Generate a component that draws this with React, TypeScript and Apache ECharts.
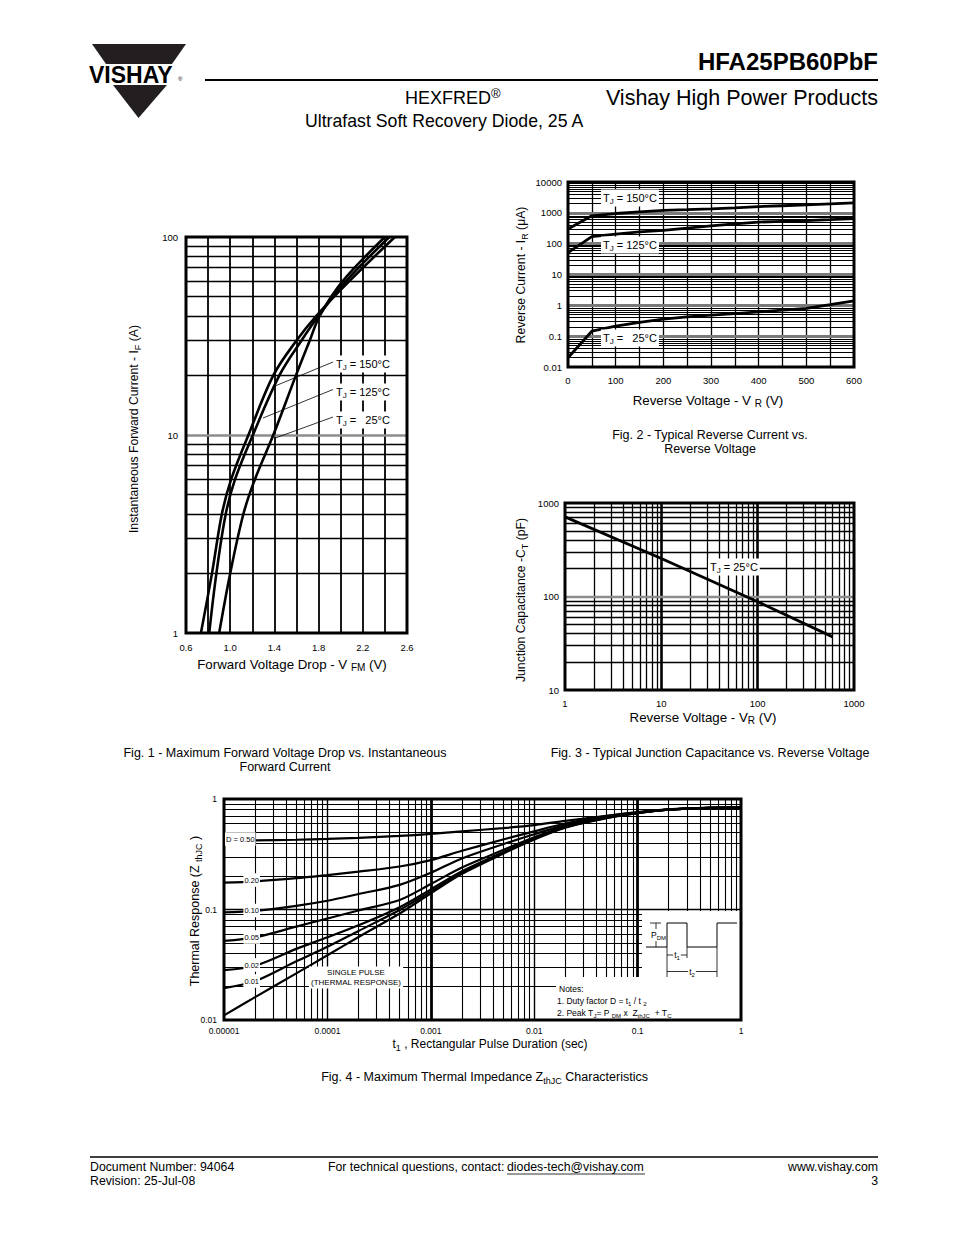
import React, { useEffect, useRef } from 'react';
import * as echarts from 'echarts';

const FONT = '"Liberation Sans", Arial, Helvetica, sans-serif';

// ---------- Fig. 1 : forward voltage drop ----------
const fig1Current = [1, 2, 4, 6, 10, 20, 30, 40, 60, 100];
const fig1V150 = [0.735, 0.835, 0.925, 1.01, 1.165, 1.39, 1.6, 1.78, 2.08, 2.49];
const fig1V125 = [0.81, 0.875, 0.96, 1.045, 1.205, 1.445, 1.645, 1.8, 2.05, 2.44];
const fig1V25 = [0.9, 1.0, 1.12, 1.225, 1.39, 1.595, 1.72, 1.81, 2.02, 2.4];
const fig1XTicks = ['0.6', '1.0', '1.4', '1.8', '2.2', '2.6'];
const fig1YTicks = ['1', '10', '100'];

// ---------- Fig. 2 : reverse current ----------
const fig2Voltage = [0, 50, 100, 150, 200, 250, 300, 350, 400, 450, 500, 550, 600];
const fig2I150 = [300, 800, 950, 1080, 1200, 1270, 1350, 1450, 1600, 1700, 1800, 1950, 2100];
const fig2I125 = [51, 170, 205, 240, 270, 320, 380, 440, 500, 530, 560, 600, 650];
const fig2I25 = [0.02, 0.145, 0.21, 0.28, 0.355, 0.42, 0.48, 0.54, 0.61, 0.7, 0.79, 1.05, 1.4];
const fig2XTicks = ['0', '100', '200', '300', '400', '500', '600'];
const fig2YTicks = ['0.01', '0.1', '1', '10', '100', '1000', '10000'];

// ---------- Fig. 3 : junction capacitance ----------
const fig3Voltage = [1, 10, 100, 600];
const fig3Cap = [710, 255, 88, 37];
const fig3XTicks = ['1', '10', '100', '1000'];
const fig3YTicks = ['10', '100', '1000'];

// ---------- Fig. 4 : thermal impedance ----------
const fig4Time = [1e-5, 2e-5, 5e-5, 1e-4, 2e-4, 5e-4, 1e-3, 2e-3, 5e-3, 1e-2, 2e-2, 5e-2, 0.1, 0.2, 0.5, 1];
const fig4D50 = [0.42, 0.423, 0.428, 0.435, 0.445, 0.463, 0.483, 0.51, 0.545, 0.58, 0.635, 0.705, 0.755, 0.8, 0.83, 0.835];
const fig4D20 = [0.175, 0.18, 0.192, 0.205, 0.22, 0.245, 0.28, 0.34, 0.43, 0.51, 0.6, 0.7, 0.76, 0.805, 0.83, 0.835];
const fig4D10 = [0.094, 0.097, 0.108, 0.12, 0.138, 0.167, 0.215, 0.29, 0.39, 0.48, 0.58, 0.69, 0.755, 0.8, 0.83, 0.835];
const fig4D05 = [0.052, 0.056, 0.07, 0.083, 0.098, 0.122, 0.17, 0.24, 0.345, 0.45, 0.565, 0.685, 0.75, 0.8, 0.83, 0.835];
const fig4D02 = [0.0283, 0.031, 0.044, 0.056, 0.072, 0.105, 0.152, 0.222, 0.33, 0.44, 0.56, 0.68, 0.75, 0.8, 0.83, 0.835];
const fig4D01 = [0.0194, 0.0225, 0.034, 0.046, 0.064, 0.099, 0.145, 0.215, 0.325, 0.435, 0.555, 0.675, 0.745, 0.8, 0.83, 0.835];
const fig4Single = [0.011, 0.0161, 0.0264, 0.0385, 0.0564, 0.092, 0.14, 0.21, 0.32, 0.43, 0.55, 0.67, 0.745, 0.8, 0.83, 0.835];
const fig4XTicks = ['0.00001', '0.0001', '0.001', '0.01', '0.1', '1'];
const fig4YTicks = ['0.01', '0.1', '1'];

// ---------- layout ----------
const G1 = { left: 186, top: 237, width: 221, height: 396 };
const G2 = { left: 568, top: 182, width: 286, height: 185 };
const G3 = { left: 565, top: 503, width: 289, height: 187 };
const G4 = { left: 224, top: 799, width: 517, height: 221 };

const pairs = (xs: number[], ys: number[]) => xs.map((x, i) => [x, ys[i]]);

function logMinors(e0: number, e1: number) {
  const out: number[] = [];
  for (let e = e0; e < e1; e++) {
    for (let k = 2; k <= 9; k++) out.push(Number((k * Math.pow(10, e)).toPrecision(6)));
  }
  return out;
}
function logMajors(e0: number, e1: number) {
  const out: number[] = [];
  for (let e = e0 + 1; e < e1; e++) out.push(Number(Math.pow(10, e).toPrecision(6)));
  return out;
}
function linSteps(a: number, b: number, step: number) {
  const out: number[] = [];
  const n = Math.round((b - a) / step);
  for (let i = 1; i < n; i++) out.push(Number((a + i * step).toFixed(6)));
  return out;
}

const ml = (axis: 'xAxis' | 'yAxis', vals: number[], color: string, width: number) =>
  vals.map((v) => ({ [axis]: v, lineStyle: { color, width, type: 'solid' } }));

function gridSeries(idx: number, x0: number, y0: number, lines: any[]) {
  return {
    type: 'line',
    xAxisIndex: idx,
    yAxisIndex: idx,
    data: [[x0, y0]],
    symbol: 'none',
    silent: true,
    z: 1,
    lineStyle: { width: 0 },
    markLine: {
      silent: true,
      z: 1,
      precision: 12,
      symbol: ['none', 'none'],
      label: { show: false },
      animation: false,
      emphasis: { disabled: true },
      data: lines,
    },
  };
}

function curve(idx: number, data: any[], smooth: boolean | number, width = 2.6) {
  return {
    type: 'line',
    xAxisIndex: idx,
    yAxisIndex: idx,
    data,
    smooth,
    showSymbol: false,
    symbol: 'none',
    silent: true,
    z: 3,
    lineStyle: { color: '#000', width },
  };
}

const logFmt = (ticks: string[], e0: number) => (v: number) => {
  const i = Math.round(Math.log10(v)) - e0;
  return ticks[i] ?? '';
};

const axisBase = {
  axisLine: { show: false },
  axisTick: { show: false },
  splitLine: { show: false },
};
const lab = (fontSize: number, margin: number, formatter: any) => ({
  show: true,
  fontSize,
  margin,
  color: '#000',
  fontFamily: FONT,
  formatter,
  showMinLabel: true,
  showMaxLabel: true,
});

function rich(size: number) {
  const ss = Math.round(size * 0.72);
  return {
    n: { fontSize: size, lineHeight: size + 4, fill: '#000', fontFamily: FONT },
    s: { fontSize: ss, lineHeight: ss, verticalAlign: 'bottom', fill: '#000', fontFamily: FONT },
    u: { fontSize: ss, lineHeight: ss, verticalAlign: 'top', fill: '#000', fontFamily: FONT },
  };
}

function T(x: number, y: number, text: string, o: any = {}) {
  const size = o.size || 11;
  const align = o.align || 'left';
  const va = o.va || 'middle';
  const style: any = {
    text,
    fill: '#000',
    fontFamily: FONT,
    fontSize: size,
    fontWeight: o.weight || 'normal',
    align,
    verticalAlign: va,
    textAlign: align,
    textVerticalAlign: va,
    lineHeight: o.lh || size + 4,
  };
  if (o.rich) style.rich = rich(size);
  if (o.bg) {
    style.backgroundColor = o.bg;
    style.padding = o.pad || [1, 2, 1, 2];
  }
  return { type: 'text', x, y, z: 100, silent: true, rotation: o.rot || 0, style };
}
const L = (x1: number, y1: number, x2: number, y2: number, w = 1, z = 100) => ({
  type: 'line',
  z,
  silent: true,
  shape: { x1, y1, x2, y2 },
  style: { stroke: '#000', lineWidth: w },
});
const border = (g: any) => ({
  type: 'rect',
  z: 90,
  silent: true,
  shape: { x: g.left, y: g.top, width: g.width, height: g.height },
  style: { fill: 'none', stroke: '#000', lineWidth: 3 },
});
const whiteRect = (x: number, y: number, w: number, h: number) => ({
  type: 'rect',
  z: 60,
  silent: true,
  shape: { x, y, width: w, height: h },
  style: { fill: '#fff', stroke: 'none' },
});

const TITLE = 13.3;
const CAP = 12.5;

function buildOption() {
  const grid = [G1, G2, G3, G4].map((g) => ({ ...g, show: false, containLabel: false }));

  const xAxis = [
    {
      ...axisBase,
      type: 'value',
      gridIndex: 0,
      min: 0.6,
      max: 2.6,
      interval: 0.2,
      axisLabel: lab(9.5, 9, (v: number) => {
        const k = Math.round((v - 0.6) / 0.2);
        return k % 2 === 0 ? fig1XTicks[k / 2] ?? '' : '';
      }),
    },
    {
      ...axisBase,
      type: 'value',
      gridIndex: 1,
      min: 0,
      max: 600,
      interval: 50,
      axisLabel: lab(9.5, 8, (v: number) => {
        const k = Math.round(v / 50);
        return k % 2 === 0 ? fig2XTicks[k / 2] ?? '' : '';
      }),
    },
    {
      ...axisBase,
      type: 'log',
      logBase: 10,
      gridIndex: 2,
      min: 1,
      max: 1000,
      splitNumber: 3,
      axisLabel: lab(9.5, 8, logFmt(fig3XTicks, 0)),
    },
    {
      ...axisBase,
      type: 'log',
      logBase: 10,
      gridIndex: 3,
      min: 0.00001,
      max: 1,
      splitNumber: 5,
      axisLabel: lab(8.5, 6, logFmt(fig4XTicks, -5)),
    },
  ];
  const yAxis = [
    { ...axisBase, type: 'log', logBase: 10, gridIndex: 0, min: 1, max: 100, splitNumber: 2, axisLabel: lab(9.5, 8, logFmt(fig1YTicks, 0)) },
    { ...axisBase, type: 'log', logBase: 10, gridIndex: 1, min: 0.01, max: 10000, splitNumber: 6, axisLabel: lab(9.5, 6, logFmt(fig2YTicks, -2)) },
    { ...axisBase, type: 'log', logBase: 10, gridIndex: 2, min: 10, max: 1000, splitNumber: 2, axisLabel: lab(9.5, 6, logFmt(fig3YTicks, 1)) },
    { ...axisBase, type: 'log', logBase: 10, gridIndex: 3, min: 0.01, max: 1, splitNumber: 2, axisLabel: lab(8.5, 7, logFmt(fig4YTicks, -2)) },
  ];

  const series: any[] = [
    // grid lines
    gridSeries(0, 0.6, 1, [
      ...ml('xAxis', linSteps(0.6, 2.6, 0.2), '#000', 1.8),
      ...ml('yAxis', logMinors(0, 2), '#000', 1.3),
      ...ml('yAxis', logMajors(0, 2), '#8c8c8c', 2.6),
    ]),
    gridSeries(1, 0, 0.01, [
      ...ml('xAxis', linSteps(0, 600, 50), '#000', 1.3),
      ...ml('yAxis', logMinors(-2, 4), '#000', 1.1),
      ...ml('yAxis', logMajors(-2, 4), '#7a7a7a', 3),
    ]),
    gridSeries(2, 1, 10, [
      ...ml('xAxis', logMinors(0, 3), '#000', 1.3),
      ...ml('xAxis', logMajors(0, 3), '#000', 2.6),
      ...ml('yAxis', logMinors(1, 3), '#000', 1.3),
      ...ml('yAxis', logMajors(1, 3), '#8c8c8c', 2.4),
    ]),
    gridSeries(3, 0.00001, 0.01, [
      ...ml('xAxis', logMinors(-5, 0), '#000', 1.1),
      ...ml('xAxis', [0.0001, 0.01], '#000', 1.4),
      ...ml('xAxis', [0.001, 0.1], '#000', 2.8),
      ...ml('yAxis', logMinors(-2, 0), '#000', 1.1),
      ...ml('yAxis', logMajors(-2, 0), '#000', 1.3),
    ]),
    // curves
    curve(0, pairs(fig1V150, fig1Current), 0.35),
    curve(0, pairs(fig1V125, fig1Current), 0.35),
    curve(0, pairs(fig1V25, fig1Current), 0.35),
    curve(1, pairs(fig2Voltage, fig2I150), false, 2.8),
    curve(1, pairs(fig2Voltage, fig2I125), false, 2.8),
    curve(1, pairs(fig2Voltage, fig2I25), false, 2.8),
    curve(2, pairs(fig3Voltage, fig3Cap), false, 2.8),
    curve(3, pairs(fig4Time, fig4D50), 0.3, 2.2),
    curve(3, pairs(fig4Time, fig4D20), 0.3, 2.2),
    curve(3, pairs(fig4Time, fig4D10), 0.3, 2.2),
    curve(3, pairs(fig4Time, fig4D05), 0.3, 2.2),
    curve(3, pairs(fig4Time, fig4D02), 0.3, 2.2),
    curve(3, pairs(fig4Time, fig4D01), 0.3, 2.2),
    curve(3, pairs(fig4Time, fig4Single), 0.3, 2.2),
  ];

  const white = '#fff';
  const graphic: any[] = [
    // ----- header -----
    { type: 'polygon', z: 100, silent: true, shape: { points: [[92, 44], [186, 44], [172, 64], [106, 64]] }, style: { fill: '#231f20' } },
    { type: 'polygon', z: 100, silent: true, shape: { points: [[113, 85], [167, 85], [138.5, 118]] }, style: { fill: '#231f20' } },
    T(89, 74.5, 'VISHAY', { size: 23, weight: 'bold' }),
    T(178, 79, '®', { size: 6 }),
    T(878, 61, 'HFA25PB60PbF', { size: 24, weight: 'bold', align: 'right' }),
    L(205, 80, 878, 80, 2),
    T(405, 98, '{n|HEXFRED}{u|®}', { size: 18, rich: true }),
    T(878, 98, 'Vishay High Power Products', { size: 21.5, align: 'right' }),
    T(305, 121, 'Ultrafast Soft Recovery Diode, 25 A', { size: 17.7 }),

    // ----- Fig 1 -----
    border(G1),
    T(134, 429, '{n|Instantaneous Forward Current - I}{s|F}{n| (A)}', { size: 12.2, rich: true, align: 'center', rot: Math.PI / 2 }),
    T(292, 664, '{n|Forward Voltage Drop - V }{s|FM}{n| (V)}', { size: TITLE, rich: true, align: 'center' }),
    L(333, 362, 275, 386, 0.8),
    L(333, 389.5, 263, 418, 0.8),
    L(333, 417, 274, 438.5, 0.8),
    T(334, 364, '{n|T}{s|J}{n| = 150°C}', { size: 11, rich: true, bg: white, pad: [1, 2, 1, 2] }),
    T(334, 392, '{n|T}{s|J}{n| = 125°C}', { size: 11, rich: true, bg: white, pad: [1, 2, 1, 2] }),
    T(334, 420, '{n|T}{s|J}{n| =   25°C}', { size: 11, rich: true, bg: white, pad: [1, 2, 1, 2] }),
    T(285, 753, 'Fig. 1 - Maximum Forward Voltage Drop vs. Instantaneous', { size: CAP, align: 'center' }),
    T(285, 767, 'Forward Current', { size: CAP, align: 'center' }),

    // ----- Fig 2 -----
    border(G2),
    T(521, 275, '{n|Reverse Current - I}{s|R}{n| (μA)}', { size: 12.2, rich: true, align: 'center', rot: Math.PI / 2 }),
    T(708, 400, '{n|Reverse Voltage - V }{s|R}{n| (V)}', { size: TITLE, rich: true, align: 'center' }),
    T(601, 198, '{n|T}{s|J}{n| = 150°C}', { size: 11, rich: true, bg: white }),
    T(601, 245, '{n|T}{s|J}{n| = 125°C}', { size: 11, rich: true, bg: white }),
    T(601, 338, '{n|T}{s|J}{n| =   25°C}', { size: 11, rich: true, bg: white }),
    T(710, 435, 'Fig. 2 - Typical Reverse Current vs.', { size: CAP, align: 'center' }),
    T(710, 449, 'Reverse Voltage', { size: CAP, align: 'center' }),

    // ----- Fig 3 -----
    border(G3),
    T(521, 600, '{n|Junction Capacitance -C}{s|T}{n| (pF)}', { size: 12.2, rich: true, align: 'center', rot: Math.PI / 2 }),
    T(703, 717, '{n|Reverse Voltage - V}{s|R}{n| (V)}', { size: TITLE, rich: true, align: 'center' }),
    T(708, 567, '{n|T}{s|J}{n| = 25°C}', { size: 11, rich: true, bg: white }),
    T(710, 753, 'Fig. 3 - Typical Junction Capacitance vs. Reverse Voltage', { size: CAP, align: 'center' }),

    // ----- Fig 4 -----
    whiteRect(642, 911, 99, 109),
    whiteRect(556, 977, 186, 43),
    border(G4),
    T(195, 911, '{n|Thermal Response (Z }{s|thJC}{n| )}', { size: 12.5, rich: true, align: 'center', rot: Math.PI / 2 }),
    T(490, 1044, '{n|t}{s|1}{n| , Rectangular Pulse Duration (sec)}', { size: 12, rich: true, align: 'center' }),
    T(225, 839, 'D = 0.50', { size: 7.5, bg: white, pad: [1, 1, 1, 1] }),
    T(260, 880, '0.20', { size: 7.5, align: 'right', bg: white, pad: [1, 1, 1, 1] }),
    T(260, 910.5, '0.10', { size: 7.5, align: 'right', bg: white, pad: [1, 1, 1, 1] }),
    T(260, 937, '0.05', { size: 7.5, align: 'right', bg: white, pad: [1, 1, 1, 1] }),
    T(260, 965, '0.02', { size: 7.5, align: 'right', bg: white, pad: [1, 1, 1, 1] }),
    T(260, 981, '0.01', { size: 7.5, align: 'right', bg: white, pad: [1, 1, 1, 1] }),
    T(356, 977.5, 'SINGLE PULSE\n(THERMAL RESPONSE)', { size: 8, lh: 10, align: 'center', bg: white, pad: [1, 2, 1, 2] }),
    // pulse drawing
    {
      type: 'polyline',
      z: 100,
      silent: true,
      shape: { points: [[646, 947], [667, 947], [667, 923], [687, 923], [687, 947], [717, 947], [717, 923], [737, 923]] },
      style: { stroke: '#000', lineWidth: 1, fill: 'none' },
    },
    L(650, 923, 661, 923, 0.8),
    L(656, 923, 656, 929, 0.8),
    L(656, 941, 656, 947, 0.8),
    T(651, 935, '{n|P}{s|DM}', { size: 8.5, rich: true }),
    L(667, 947, 667, 977, 0.8),
    L(687, 947, 687, 958, 0.8),
    L(717, 947, 717, 977, 0.8),
    L(667, 955, 687, 955, 0.8),
    T(677, 955, '{n|t}{s|1}', { size: 8.5, rich: true, align: 'center', bg: white, pad: [0, 1, 0, 1] }),
    L(667, 971.5, 717, 971.5, 0.8),
    T(692, 971.5, '{n|t}{s|2}', { size: 8.5, rich: true, align: 'center', bg: white, pad: [0, 1, 0, 1] }),
    T(559, 989, 'Notes:', { size: 8.5 }),
    T(557, 1001, '{n|1. Duty factor D = t}{s|1}{n| / t }{s|2}', { size: 8.5, rich: true }),
    T(557, 1013, '{n|2. Peak T}{s|J}{n|= P }{s|DM}{n| x  Z}{s|thJC}{n|  + T}{s|C}', { size: 8.5, rich: true }),
    T(484.5, 1077, '{n|Fig. 4 - Maximum Thermal Impedance Z}{s|thJC}{n| Characteristics}', { size: CAP, rich: true, align: 'center' }),

    // ----- footer -----
    L(90, 1157, 878, 1157, 1.5),
    T(90, 1167, 'Document Number: 94064', { size: 12.3 }),
    T(90, 1181, 'Revision: 25-Jul-08', { size: 12.3 }),
    T(328, 1167, 'For technical questions, contact:', { size: 12.3 }),
    T(507, 1167, 'diodes-tech@vishay.com', { size: 12.3 }),
    L(507, 1174, 645, 1174, 0.8),
    T(878, 1167, 'www.vishay.com', { size: 12.3, align: 'right' }),
    T(878, 1181, '3', { size: 12.3, align: 'right' }),
  ];

  return {
    animation: false,
    backgroundColor: '#fff',
    textStyle: { fontFamily: FONT },
    grid,
    xAxis,
    yAxis,
    series,
    graphic,
  };
}

export default function App() {
  const ref = useRef<HTMLDivElement>(null);
  useEffect(() => {
    if (!ref.current) return;
    const chart = echarts.init(ref.current, undefined, { renderer: 'svg', width: 954, height: 1235 });
    chart.setOption(buildOption() as any);
    return () => chart.dispose();
  }, []);
  return (
    <div
      ref={ref}
      style={{ position: 'absolute', left: 0, top: 0, width: 954, height: 1235, background: '#fff' }}
    />
  );
}
